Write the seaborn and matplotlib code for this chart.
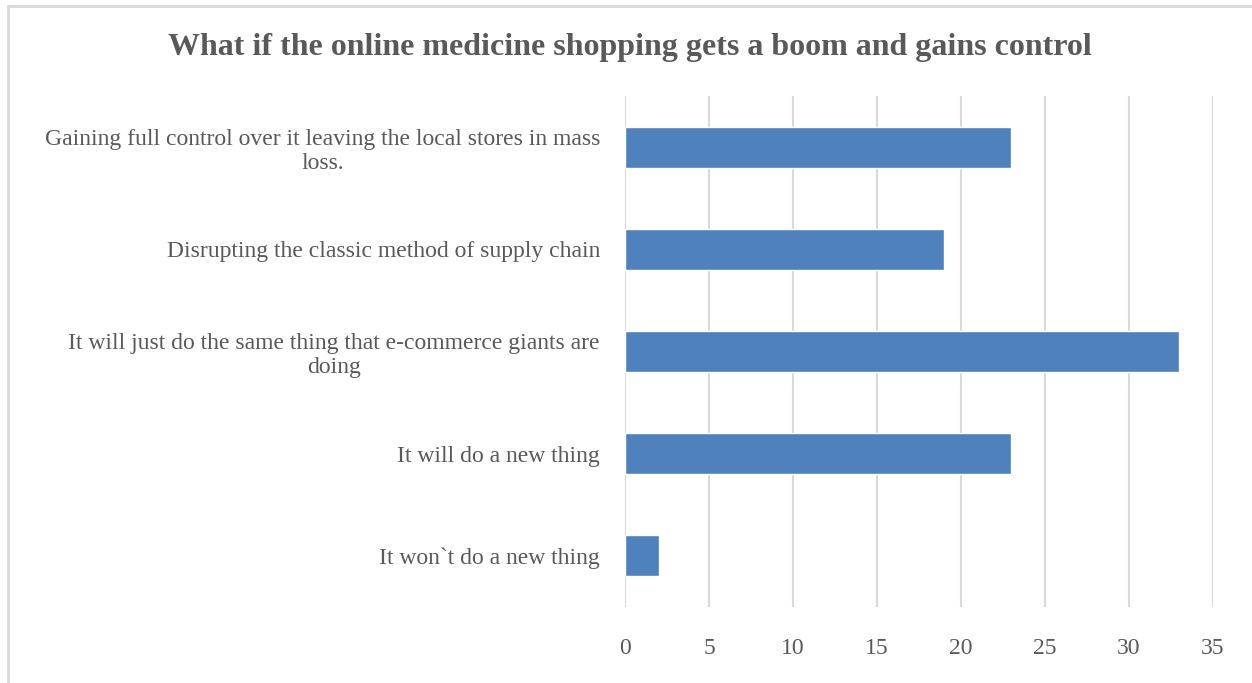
import matplotlib
matplotlib.use("Agg")
import matplotlib.pyplot as plt
import seaborn as sns
import pandas as pd
from matplotlib.patches import Rectangle

categories = [
    "Gaining full control over it leaving the local stores in mass\nloss.",
    "Disrupting the classic method of supply chain",
    "It will just do the same thing that e-commerce giants are\ndoing",
    "It will do a new thing",
    "It won`t do a new thing",
]
values = [23, 19, 33, 23, 2]
xticks = [0, 5, 10, 15, 20, 25, 30, 35]
title = "What if the online medicine shopping gets a boom and gains control"

sns.set_theme(style="white")
plt.rcParams['font.family'] = ['Liberation Serif', 'DejaVu Serif']

W, H = 1252, 683
fig = plt.figure(figsize=(W / 100, H / 100), dpi=100)
ax = fig.add_axes([625 / W, 1 - 607 / H, (1213 - 625) / W, (607 - 96) / H])

df = pd.DataFrame({"cat": categories, "val": values})
sns.barplot(data=df, x="val", y="cat", orient="h", color="#4f81bd",
            saturation=1, width=0.4, ax=ax, zorder=3)

ax.set_xlim(0, 35)
ax.set_ylim(4.5, -0.5)
ax.set_xticks(xticks)
ax.set_xticklabels([str(t) for t in xticks])
ax.xaxis.grid(True, color="#d9d9d9", linewidth=1.5, zorder=0)
ax.yaxis.grid(False)
for s in ax.spines.values():
    s.set_visible(False)
ax.set_xlabel("")
ax.set_ylabel("")
ax.tick_params(axis="x", length=0, pad=22, labelsize=17, labelcolor="#595959")
ax.tick_params(axis="y", length=0, pad=18, labelsize=17, labelcolor="#595959")
for lbl in ax.get_yticklabels():
    lbl.set_horizontalalignment("right")
    lbl.set_multialignment("center")
    lbl.set_linespacing(1.2)

fig.text(630 / W, 1 - 47 / H, title, ha="center", va="center",
         fontsize=23, fontweight="bold", color="#595959")

fig.patches.append(Rectangle((8 / W, -0.1), 1.2, 1 - 6 / H + 0.1,
                             transform=fig.transFigure, fill=False,
                             edgecolor="#d9d9d9", linewidth=2))

fig.savefig("out.png", dpi=100, facecolor="white")
